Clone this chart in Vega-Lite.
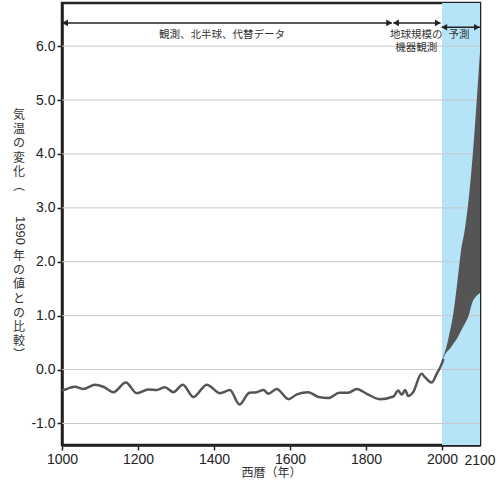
{
  "$schema": "https://vega.github.io/schema/vega-lite/v6.json",
  "width": 418,
  "height": 442,
  "autosize": {"type": "none"},
  "padding": {"left": 62, "top": 3, "right": 20, "bottom": 36},
  "background": "white",
  "config": {
    "font": "Liberation Sans",
    "view": {"stroke": "#222", "strokeWidth": 2.5},
    "axis": {"domainColor": "#222", "domainWidth": 2.5, "tickColor": "#222", "tickWidth": 1.5, "labelColor": "#222", "titleColor": "#333", "grid": false},
    "axisX": {"labelFlush": false, "labelOverlap": false, "labelBound": false}
  },
  "datasets": {
    "hist": [
      {"year": 1000, "temp": -0.37}, {"year": 1003, "temp": -0.38}, {"year": 1020, "temp": -0.34}, {"year": 1034, "temp": -0.32},
      {"year": 1056, "temp": -0.36}, {"year": 1087, "temp": -0.28}, {"year": 1109, "temp": -0.32}, {"year": 1135, "temp": -0.42},
      {"year": 1168, "temp": -0.24}, {"year": 1197, "temp": -0.44}, {"year": 1227, "temp": -0.37}, {"year": 1249, "temp": -0.38},
      {"year": 1271, "temp": -0.33}, {"year": 1293, "temp": -0.42}, {"year": 1318, "temp": -0.28}, {"year": 1346, "temp": -0.51},
      {"year": 1381, "temp": -0.28}, {"year": 1416, "temp": -0.44}, {"year": 1442, "temp": -0.38}, {"year": 1467, "temp": -0.65},
      {"year": 1493, "temp": -0.43}, {"year": 1512, "temp": -0.42}, {"year": 1530, "temp": -0.38}, {"year": 1543, "temp": -0.45},
      {"year": 1565, "temp": -0.36}, {"year": 1596, "temp": -0.55}, {"year": 1618, "temp": -0.46}, {"year": 1648, "temp": -0.42},
      {"year": 1675, "temp": -0.51}, {"year": 1701, "temp": -0.53}, {"year": 1730, "temp": -0.43}, {"year": 1753, "temp": -0.43},
      {"year": 1776, "temp": -0.36}, {"year": 1802, "temp": -0.45}, {"year": 1837, "temp": -0.55}, {"year": 1872, "temp": -0.5},
      {"year": 1885, "temp": -0.39}, {"year": 1894, "temp": -0.47}, {"year": 1903, "temp": -0.38}, {"year": 1911, "temp": -0.49},
      {"year": 1924, "temp": -0.42}, {"year": 1946, "temp": -0.08}, {"year": 1955, "temp": -0.14}, {"year": 1973, "temp": -0.24},
      {"year": 1986, "temp": -0.08}, {"year": 1999, "temp": 0.1}, {"year": 2004, "temp": 0.2}
    ],
    "proj": [
      {"year": 2001, "low": 0.18, "high": 0.2}, {"year": 2010, "low": 0.3, "high": 0.38}, {"year": 2020, "low": 0.38, "high": 0.68},
      {"year": 2030, "low": 0.48, "high": 1.05}, {"year": 2040, "low": 0.58, "high": 1.6}, {"year": 2050, "low": 0.72, "high": 2.2},
      {"year": 2060, "low": 0.85, "high": 2.6}, {"year": 2070, "low": 1.0, "high": 3.15}, {"year": 2080, "low": 1.25, "high": 3.9},
      {"year": 2090, "low": 1.36, "high": 4.85}, {"year": 2100, "low": 1.42, "high": 5.9}
    ],
    "gridvals": [{"v": -1}, {"v": 0}, {"v": 1}, {"v": 2}, {"v": 3}, {"v": 4}, {"v": 5}, {"v": 6}],
    "shade": [{"start": 2000, "end": 2100}],
    "arrowlines": [
      {"a": 1000, "b": 1868, "y": 6.43}, {"a": 1872, "b": 1996, "y": 6.43}, {"a": 1999, "b": 2100, "y": 6.35}
    ],
    "arrowheads": [
      {"x": 1008, "y": 6.43, "dir": "left"}, {"x": 1861, "y": 6.43, "dir": "right"},
      {"x": 1879, "y": 6.43, "dir": "left"}, {"x": 1989, "y": 6.43, "dir": "right"},
      {"x": 2006, "y": 6.35, "dir": "left"}, {"x": 2092, "y": 6.35, "dir": "right"}
    ],
    "notes": [
      {"x": 1421, "y": 6.2, "text": "観測、北半球、代替データ"},
      {"x": 1932, "y": 6.21, "text": "地球規模の"},
      {"x": 1932, "y": 5.97, "text": "機器観測"},
      {"x": 2045, "y": 6.2, "text": "予測"}
    ],
    "ytitle": [
      {"x": 887, "y": 4.815, "text": "気\n温\nの\n変\n化\n︵"},
      {"x": 887, "y": 2.2, "text": "年\nの\n値\nと\nの\n比\n較\n︶"}
    ],
    "lastlabel": [
      {"x": 2100, "y": -1.695, "text": "2100"}
    ]
  },
  "layer": [
    {
      "data": {"name": "shade"},
      "mark": {"type": "rect", "color": "#b5e3f7"},
      "encoding": {
        "x": {"field": "start", "type": "quantitative",
          "scale": {"domain": [1000, 2100], "nice": false, "zero": false},
          "axis": {
            "values": [1000, 1100, 1200, 1300, 1400, 1500, 1600, 1700, 1800, 1900, 2000, 2100],
            "labelExpr": "(datum.value % 200 == 0) ? '' + datum.value : ''",
            "labelFontSize": 14, "labelPadding": 2, "tickSize": 5, "labelFlush": false, "labelOverlap": false, "labelBound": false,
            "title": "西暦（年）", "titleFontSize": 12, "titleFontWeight": "normal", "titlePadding": 1,
            "titleFont": "Noto Sans CJK JP"
          }},
        "x2": {"field": "end"}
      }
    },
    {
      "data": {"name": "gridvals"},
      "mark": {"type": "rule", "color": "#c8c8c8", "strokeWidth": 1},
      "encoding": {
        "y": {"field": "v", "type": "quantitative",
          "scale": {"domain": [-1.4, 6.8], "nice": false, "zero": false},
          "axis": {
            "values": [-1, 0, 1, 2, 3, 4, 5, 6],
            "labelExpr": "datum.value < 0 ? '-' + format(-datum.value, '.1f') : format(datum.value, '.1f')",
            "labelFontSize": 14, "labelPadding": 2, "tickSize": 5,
            "title": "1990",
            "titleAngle": 90, "titleX": -43, "titleY": 227, "titleAlign": "center", "titleBaseline": "middle",
            "titleFontSize": 13, "titleFontWeight": "normal", "titleFont": "Liberation Sans"
          }}
      }
    },
    {
      "data": {"name": "proj"},
      "mark": {"type": "area", "color": "#555555", "interpolate": "monotone"},
      "encoding": {
        "x": {"field": "year", "type": "quantitative"},
        "y": {"field": "low", "type": "quantitative"},
        "y2": {"field": "high"}
      }
    },
    {
      "data": {"name": "hist"},
      "mark": {"type": "line", "color": "#555555", "strokeWidth": 2.5, "interpolate": "monotone"},
      "encoding": {
        "x": {"field": "year", "type": "quantitative"},
        "y": {"field": "temp", "type": "quantitative"}
      }
    },
    {
      "data": {"name": "arrowlines"},
      "mark": {"type": "rule", "color": "#222", "strokeWidth": 1.5},
      "encoding": {
        "x": {"field": "a", "type": "quantitative"},
        "x2": {"field": "b"},
        "y": {"field": "y", "type": "quantitative"}
      }
    },
    {
      "data": {"name": "arrowheads"},
      "mark": {"type": "point", "filled": true, "color": "#222", "opacity": 1, "size": 45},
      "encoding": {
        "x": {"field": "x", "type": "quantitative"},
        "y": {"field": "y", "type": "quantitative"},
        "shape": {"field": "dir", "type": "nominal", "scale": {"domain": ["left", "right"], "range": ["triangle-left", "triangle-right"]}, "legend": null}
      }
    },
    {
      "data": {"name": "notes"},
      "mark": {"type": "text", "fontSize": 10.5, "color": "#333", "baseline": "middle", "align": "center", "font": "Noto Sans CJK JP"},
      "encoding": {
        "x": {"field": "x", "type": "quantitative"},
        "y": {"field": "y", "type": "quantitative"},
        "text": {"field": "text", "type": "nominal"}
      }
    },
    {
      "data": {"name": "ytitle"},
      "mark": {"type": "text", "fontSize": 12, "color": "#333", "baseline": "top", "align": "center", "font": "Noto Sans CJK JP", "lineBreak": "\n", "lineHeight": 14.2},
      "encoding": {
        "x": {"field": "x", "type": "quantitative"},
        "y": {"field": "y", "type": "quantitative"},
        "text": {"field": "text", "type": "nominal"}
      }
    },
    {
      "data": {"name": "lastlabel"},
      "mark": {"type": "text", "fontSize": 14, "color": "#222", "baseline": "middle", "align": "center", "font": "Liberation Sans"},
      "encoding": {
        "x": {"field": "x", "type": "quantitative"},
        "y": {"field": "y", "type": "quantitative"},
        "text": {"field": "text", "type": "nominal"}
      }
    }
  ]
}
